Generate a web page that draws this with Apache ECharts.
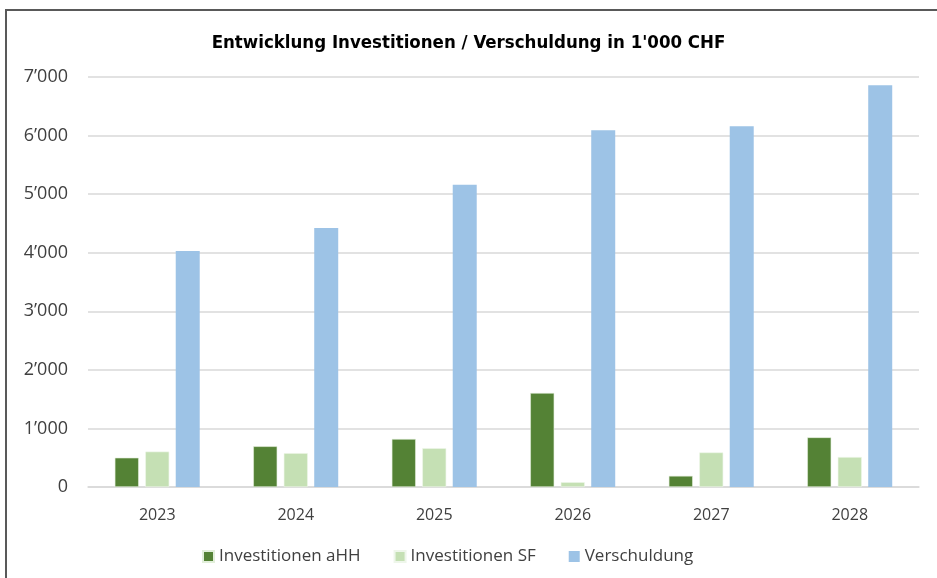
<!DOCTYPE html>
<html>
<head>
<meta charset="utf-8">
<script src="https://cdn.jsdelivr.net/npm/echarts@6/dist/echarts.min.js"></script>
<style>
  html, body { margin: 0; padding: 0; background: #fff; }
  #chart { width: 937px; height: 578px; }
</style>
</head>
<body>
<div id="chart"></div>
<script>
const years = ['2023', '2024', '2025', '2026', '2027', '2028']
const investAHH = [500, 695, 820, 1605, 190, 848]
const investSF = [605, 578, 662, 82, 590, 512]
const verschuldung = [4030, 4420, 5160, 6090, 6160, 6860]

const fontFam = "'Open Sans', 'Noto Sans', sans-serif"

const fmt = (v) => {
  if (v === 0) return '0'
  const s = String(Math.round(v))
  return s.replace(/\B(?=(\d{3})+(?!\d))/g, '\u2019')
}

const chart = echarts.init(document.getElementById('chart'))

chart.setOption({
  animation: false,
  title: {
    text: "Entwicklung Investitionen / Verschuldung in 1'000 CHF",
    left: 'center',
    top: 29,
    textStyle: {
      fontFamily: "'Liberation Sans Narrow', 'DejaVu Sans Condensed', sans-serif",
      fontSize: 18.5,
      fontWeight: 'bold',
      color: '#000'
    }
  },
  graphic: [{
    type: 'rect',
    shape: { x: 6, y: 10, width: 960, height: 600 },
    style: { fill: 'none', stroke: '#595959', lineWidth: 2 },
    silent: true
  }],
  legend: {
    top: 543,
    left: 197,
    itemWidth: 11,
    itemHeight: 11,
    itemGap: 33,
    icon: 'rect',
    textStyle: { fontFamily: fontFam, fontSize: 17, color: '#404040' },
    data: ['Investitionen aHH', 'Investitionen SF', 'Verschuldung']
  },
  grid: {
    left: 88,
    right: 18,
    top: 77,
    bottom: 91
  },
  xAxis: {
    type: 'category',
    data: years,
    axisTick: { show: false },
    axisLine: { lineStyle: { color: '#d9d9d9', width: 1.5 } },
    axisLabel: { fontFamily: fontFam, fontSize: 16, color: '#404040', margin: 20 }
  },
  yAxis: {
    type: 'value',
    min: 0,
    max: 7000,
    interval: 1000,
    axisLine: { show: false },
    axisTick: { show: false },
    splitLine: { lineStyle: { color: '#d9d9d9', width: 1.5 } },
    axisLabel: { fontFamily: fontFam, fontSize: 18, color: '#404040', margin: 20, formatter: fmt }
  },
  series: [
    {
      name: 'Investitionen aHH',
      type: 'bar',
      data: investAHH,
      barWidth: 24,
      barGap: '27%',
      itemStyle: { color: '#548235', borderColor: '#e2efda', borderWidth: 0.6 }
    },
    {
      name: 'Investitionen SF',
      type: 'bar',
      data: investSF,
      barWidth: 24,
      itemStyle: { color: '#c5e0b4', borderColor: '#eef6ea', borderWidth: 0.6 }
    },
    {
      name: 'Verschuldung',
      type: 'bar',
      data: verschuldung,
      barWidth: 24,
      itemStyle: { color: '#9dc3e6' }
    }
  ]
})
</script>
</body>
</html>
